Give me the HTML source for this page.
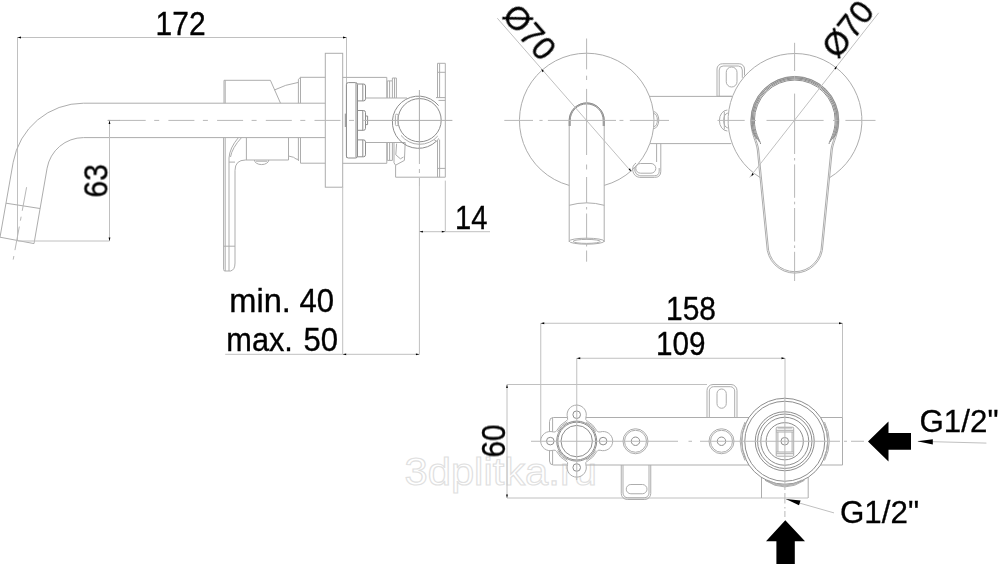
<!DOCTYPE html>
<html>
<head>
<meta charset="utf-8">
<title>Drawing</title>
<style>
html,body{margin:0;padding:0;background:#fff;}
body{width:1000px;height:564px;overflow:hidden;font-family:"Liberation Sans",sans-serif;}
svg{display:block;}
.l{stroke:#adadad;stroke-width:1;fill:none;}
.w{stroke:#adadad;stroke-width:1;fill:#fff;}
.c{stroke:#b8b8b8;stroke-width:1;fill:none;stroke-dasharray:27 8.5 5 8.5;}
.t{font-family:"Liberation Sans",sans-serif;font-size:32.5px;fill:#000;stroke:#000;stroke-width:0.35;}
.g{font-family:"Liberation Sans",sans-serif;font-size:30.5px;fill:#000;stroke:#000;stroke-width:0.3;}
.wm{font-family:"Liberation Sans",sans-serif;font-size:38.5px;fill:none;stroke:#e0e0e0;stroke-width:1.1;}
.d{stroke:#8e8e8e;}
.m{stroke:#c0c0c0;}
.k{fill:#000;stroke:none;}
</style>
</head>
<body>
<svg width="1000" height="564" viewBox="0 0 1000 564">
<rect width="1000" height="564" fill="#fff"/>

<!-- watermark -->
<g style="opacity:0.999"><text class="wm" x="404.5" y="484.5" textLength="192.5" lengthAdjust="spacingAndGlyphs">3dplitka.ru</text></g>

<!-- ================= SIDE VIEW ================= -->
<g id="side" class="l">
  <!-- dimension 172 -->
  <path class="m" d="M17.5 37.5H346.5M17.5 37V241M346.5 37V158"/>
  <!-- spout -->
  <path d="M325.3 103.2H83.5A71.4 71.4 0 0 0 13.2 162.2L0 237.2L34 243.6L47.1 168.2A37 37 0 0 1 83.5 137.6H325.3"/>
  <path d="M6 203.2L40 208.5"/>
  <!-- dim 63 -->
  <path class="m" d="M109.5 120.4V241M17.5 241H109.5"/>
  <!-- handle top block -->
  <path d="M224 103.2V80.3H270.4L280.5 103.2M225.2 103.2V80.3"/>
  <path d="M274.4 90Q285 84.5 298.4 82.4"/>
  <path d="M298.4 103.2V79.3L300.5 77.3H325.3M300.5 77.3V103.2"/>
  <!-- handle lower -->
  <path d="M223.6 137.6V269.5Q223.6 271 225 271H230.5Q235 270 235 263V170.5Q235 160 245.5 160H288.5"/>
  <path d="M225.2 137.6V271M229 158V271M223.6 246.2H235M229 162.1H235"/>
  <path d="M238.4 137.6Q229.6 148 229 158M241.5 137.6Q232 148 230.5 157"/>
  <path d="M246.4 137.6V160M288.5 137.6V160M288.5 156L293.6 157.3Q296 159.5 298.4 159.5"/>
  <path d="M298.4 137.6V161M300.5 137.6V163.2H325.3"/>
  <path d="M254.4 160A7.2 4.6 0 0 0 268.8 160M256 161.2H267.2"/>
  <!-- wall plate -->
  <rect x="325.3" y="53.3" width="17.4" height="133.9"/>
  <!-- body behind wall -->
  <path d="M342.7 77.4H386.8V98M342.7 163.3H386.8V142.5"/>
  <rect class="d" x="346.4" y="82.6" width="11.1" height="75.4" rx="2"/>
  <path class="d" d="M356 83V157.6M345.3 113.6V127"/>
  <!-- bolts -->
  <path class="d" d="M357.5 84H363.5Q365.5 84 365.5 86V98.9Q365.5 100.9 363.5 100.9H357.5M362.8 84V100.9"/>
  <path class="d" d="M357.5 139.9H363.5Q365.5 139.9 365.5 141.9V154.8Q365.5 156.8 363.5 156.8H357.5M362.8 139.9V156.8"/>
  <path class="d" d="M357.5 110.5H363.5Q365.5 110.5 365.5 112.5V128.3Q365.5 130.3 363.5 130.3H357.5M362.8 110.5V130.3M365.5 116H367.6V124.6H365.5"/>
  <path d="M365.5 98H407M365.5 142.5H405.2"/>
  <!-- rings -->
  <path d="M387.3 98V80.9H392.4V98M389.6 98V80.9M392.4 80.9V78H396.4V98M394.5 98V78"/>
  <path d="M387.3 142.5V160.4H392.4V142.5M389.6 142.5V160.4"/>
  <!-- clip -->
  <path d="M394 142.5V162.8L395.6 165.2L404.4 160.4L405.2 142.5M396.6 143.6L395.8 154.8L400.4 158.8L403.5 157"/>
  <!-- pipe circle -->
  <circle class="d" cx="419.6" cy="120.2" r="21.6"/>
  <path class="d" d="M438.6 105.6A26.1 26.1 0 1 0 436.3 141.3"/>
  <path d="M401 135.4A24 24 0 0 0 437.8 136"/>
  <path d="M434 139.6L437 141.5L438.6 138.4"/>
  <rect x="395.4" y="114.2" width="2.7" height="11.5" rx="1.2"/>
  <!-- bracket -->
  <path d="M437.5 98V63.3H445.3V177.2M439.6 63.3V98M437.5 72.3H445.3M436 97.6H445.3M438.5 100.4H445.3"/>
  <path d="M437.5 141V177.2M439.6 139.6V177.2M437.5 168.4H445.3"/>
  <path d="M395.6 165.2V177.2H445.3"/>
  <!-- dim 14 -->
  <path class="m" d="M445.3 180.6V231.7M419.4 231.7H490"/>
  <!-- dim min/max -->
  <path class="m" d="M342.7 187.2V354.3M225.2 354.3H419.4M419.4 186V354.3"/>
</g>
<!-- side view centre lines -->
<path class="c" d="M107.5 120.4H366" stroke-dashoffset="36.5" style="stroke-dasharray:26 8.5 5 9.2"/>
<path class="l" d="M108 120.4H120M366 120.4H452.4M419.4 90V150"/>
<path class="c" d="M419.4 150V186" style="stroke-dasharray:14 5 4 5"/>
<path class="c" d="M26.6 187.2L13.2 259.6" style="stroke-dasharray:24 6 4 6"/>

<!-- ================= FRONT VIEW: SPOUT ================= -->
<g id="front1" class="l">
  <path d="M604.2 185.4A67.25 67.25 0 1 0 569.2 185.4"/>
  <path d="M569.2 242V120.5A17.5 17.5 0 0 1 604.2 120.5V242"/>
  <path class="d" d="M570.2 126V120.4A16.5 16.5 0 0 1 603.2 120.4V126"/>
  <path class="d" d="M569.2 126V120.4A17.5 17.5 0 0 1 604.2 120.4V126"/>
  <path d="M569.2 205.3Q586.7 200.4 604.2 205.3"/>
  <ellipse cx="586.7" cy="241.2" rx="17.5" ry="3"/>
  <ellipse cx="586.7" cy="241.4" rx="13.6" ry="2"/>
  <!-- leader -->
  <path class="m" d="M497.3 18.2L631.2 171.6"/>
  <!-- bump -->
  <path d="M653.4 111.5A5.4 8.6 0 0 1 653.4 128.7M654 113.6A3.4 6.5 0 0 1 654 126.6"/>
  <!-- connecting lines -->
  <path d="M649.5 96.4H732M650 143.6H731.3"/>
  <!-- tab -->
  <path d="M656.6 143.5V162M636 163A8 8 0 0 0 639.6 177.4H654.6Q660.8 177.4 660.8 171.3V143.5"/>
  <path d="M637 164.6A6.4 6.4 0 0 0 639.8 175.8H654.2Q659.2 175.8 659.2 171.2V168"/>
  <rect x="635.8" y="163.5" width="20" height="9.7" rx="4.8"/>
</g>
<path class="c" d="M504.3 120.4H533M539.4 120.4H542.6M547.9 120.4H616M619.5 120.4H623.4M629.8 120.4H669" style="stroke-dasharray:none"/>
<path class="c" d="M586.6 38.5V69.4M586.6 75.7V80M586.6 88.9V155M586.6 164.5V169.5M586.6 177V203M586.6 207V209.5M586.6 213.5V240M586.6 244V246.5M586.6 250.5V261.7" style="stroke-dasharray:none"/>
<path class="k" d="M541.3 68.8l1.2 3.4l1.4-1.2zM631.2 171.6l-1.2-3.4l-1.4 1.2z"/>

<!-- ================= FRONT VIEW: HANDLE ================= -->
<g id="front2" class="l">
  <path d="M760.3 177.6A66.9 66.9 0 1 1 829.7 177.6"/>
  <!-- handle -->
  <path d="M766.70 245L757.30 150C756.50 142 750.80 134 750.80 120.4A44 44 0 0 1 838.80 120.4C838.80 134 833.10 142 832.30 150L822.90 245A28.1 28.1 0 0 1 766.70 245Z"/>
  <path d="M768.10 245L758.70 150C757.90 142 752.20 134 752.20 120.4A42.6 42.6 0 0 1 837.40 120.4C837.40 134 831.70 142 830.90 150L821.50 245A26.700000000000003 26.700000000000003 0 0 1 768.10 245Z"/>
  <path class="d" d="M757.30 138C756.70 140 751.10 133 751.10 120.4A43.7 43.7 0 0 1 838.50 120.4C838.50 133 832.90 140 832.30 138"/>
  <path class="d" d="M758.40 140C757.80 140 752.20 133 752.20 120.4A42.6 42.6 0 0 1 837.40 120.4C837.40 133 831.80 140 831.20 140"/>
  <path class="d" d="M759.50 142C758.90 140 753.30 133 753.30 120.4A41.5 41.5 0 0 1 836.30 120.4C836.30 133 830.70 140 830.10 142"/>
  <path class="d" d="M760.60 144C760.00 140 754.40 133 754.40 120.4A40.4 40.4 0 0 1 835.20 120.4C835.20 133 829.60 140 829.00 144"/>
  <!-- leader -->
  <path class="m" d="M878.7 12.8L749.7 177.4"/>
  <!-- top-left bracket -->
  <path d="M717 96.25V69A5.3 5.3 0 0 1 722.3 63.75H739.2A5.3 5.3 0 0 1 744.5 69V75.5"/>
  <path d="M719.2 96.25V70A4 4 0 0 1 723.2 66H738.3A4 4 0 0 1 742.3 70V77.8"/>
  <rect x="726.25" y="67" width="10.75" height="20" rx="5.3"/>
  <path d="M717 96.25H731.8"/>
  <!-- left bump -->
  <path d="M727.4 110A8 10.5 0 0 0 727.4 131M727.9 113A5 7.6 0 0 0 727.9 128M724.3 111.5V129.5"/>
</g>
<path class="c" d="M717.5 120.4H744.7M751.5 120.4H756M766.5 120.4H823.6M833 120.4H837.5M845.4 120.4H875.5" style="stroke-dasharray:none"/>
<path class="c" d="M794.6 42.8V71M794.6 76V79.5M794.6 93.6V154M794.6 158V160.5M794.6 164.4V197.8M794.6 201.7V204.3M794.6 208V241.5M794.6 245.4V248M794.6 251.8V281" style="stroke-dasharray:none"/>
<path class="k" d="M836.9 66l-1 3.5l-1.6-1.2zM751.3 176.5l1-3.5l1.6 1.2z"/>

<!-- ================= BOTTOM VIEW ================= -->
<g id="bottom" class="l">
  <!-- dims -->
  <path class="m" d="M540.75 323.25H842.5M540.75 323V441.25M842.5 323V417.5"/>
  <path class="m" d="M576.75 358.25H785M576.75 358V404.5M785 358V398"/>
  <path class="m" d="M507 384.5V498M507 384.5H707M507 498H808"/>
  <!-- plate -->
  <path d="M842.5 417.5H553.5A4 4 0 0 0 549.5 421.5V461A4 4 0 0 0 553.5 465H842.5Z"/>
  <path d="M552.6 417.5V465"/>
  <!-- bottom tab -->
  <path d="M621.25 465V493.5A6 6 0 0 0 627.25 499.5H644.75A6 6 0 0 0 650.75 493.5V465"/>
  <path d="M623 465V493A4.8 4.8 0 0 0 627.8 497.8H644.2A4.8 4.8 0 0 0 649 493V465"/>
  <rect x="626.25" y="484.5" width="20.75" height="9.25" rx="4.6"/>
  <!-- top bracket -->
  <path d="M707 417.5V390.5A6 6 0 0 1 713 384.5H731A6 6 0 0 1 737 390.5V417.5"/>
  <path d="M709.3 417.5V391A4.3 4.3 0 0 1 713.6 386.7H730.4A4.3 4.3 0 0 1 734.7 391V417.5"/>
  <rect x="717" y="389" width="9.25" height="19.25" rx="4.6"/>
  <!-- plate holes -->
  <circle cx="635.5" cy="441.25" r="12.5"/><circle cx="635.5" cy="441.25" r="11"/><circle class="d" cx="635.5" cy="441.25" r="4.2"/>
  <circle cx="721.5" cy="441.25" r="12.5"/><circle cx="721.5" cy="441.25" r="11"/><circle class="d" cx="721.5" cy="441.25" r="4.2"/>
  <!-- 4-lobe flange -->
  <path class="w" d="M566.09 421.14A3.0 3.0 0 0 0 567.55 417.59A9.6 9.6 0 1 1 585.85 417.59A3.0 3.0 0 0 0 587.31 421.14A22.6 22.6 0 0 1 596.66 430.49A3.0 3.0 0 0 0 600.21 431.95A9.6 9.6 0 1 1 600.21 450.25A3.0 3.0 0 0 0 596.66 451.71A22.6 22.6 0 0 1 587.31 461.06A3.0 3.0 0 0 0 585.85 464.61A9.6 9.6 0 1 1 567.55 464.61A3.0 3.0 0 0 0 566.09 461.06A22.6 22.6 0 0 1 556.74 451.71A3.0 3.0 0 0 0 553.19 450.25A9.6 9.6 0 1 1 553.19 431.95A3.0 3.0 0 0 0 556.74 430.49A22.6 22.6 0 0 1 566.09 421.14Z"/>
  <path d="M595.84 450.44A21.3 21.3 0 0 1 586.04 460.24M567.36 460.24A21.3 21.3 0 0 1 557.56 450.44M557.56 431.76A21.3 21.3 0 0 1 567.36 421.96M586.04 421.96A21.3 21.3 0 0 1 595.84 431.76"/>
  <circle class="d" cx="576.7" cy="441.1" r="20"/>
  <circle class="d" cx="576.7" cy="441.1" r="18.9"/>
  <circle class="d" cx="576.7" cy="441.1" r="15.7"/>
  <circle class="d" cx="576.7" cy="414.70000000000005" r="3.8"/>
  <circle class="d" cx="576.7" cy="467.5" r="3.8"/>
  <circle class="d" cx="550.3000000000001" cy="441.1" r="3.8"/>
  <circle class="d" cx="603.1" cy="441.1" r="3.8"/>
  <!-- outlet box -->
  <path d="M761.5 477V498M808.2 477V498"/>
  <path d="M765 480Q784.75 492 803.75 480"/>
  <!-- big valve -->
  <circle class="w d" cx="784.75" cy="441.25" r="43"/>
  <circle class="d" cx="784.75" cy="441.25" r="40"/>
  <path d="M745 422Q735.4 441.25 745 460.5M824.5 422Q834.1 441.25 824.5 460.5M746 423.5Q737.6 441.25 746 459M823.5 423.5Q831.9 441.25 823.5 459"/>
  <circle class="d" cx="784.75" cy="441.25" r="29.5"/>
  <circle class="d" cx="784.75" cy="441.25" r="27.2"/>
  <circle class="d" cx="784.75" cy="441.25" r="24"/>
  <circle class="d" cx="784.75" cy="441.25" r="18.6"/>
  <rect x="776.2" y="427.2" width="17.5" height="29" rx="1"/>
  <path d="M776.2 430.3H793.7M776.2 432H793.7M776.2 452H793.7M776.2 453.7H793.7M777.9 432V452M792.1 432V452M777.6 428H792.3"/>
  <circle class="d" cx="784.75" cy="441.25" r="3.8"/>
  <path d="M765 480.3Q784.75 493.5 804.5 480.3M767.5 480Q784.75 490.5 802 480"/>
  <!-- leaders -->
  <path class="m" d="M786 499.2L834 512.9M918 441.3L986.4 443.1"/>
</g>
<path class="c" d="M531 441.25H678M688.5 441.25H692M700 441.25H840M844 441.25H847M851 441.25H864" style="stroke-dasharray:none"/>
<path class="c" d="M576.75 404V480" style="stroke-dasharray:none"/>
<path class="c" d="M784.9 398V490M784.9 493V503.5M784.9 507V508.5M784.9 511V517" style="stroke-dasharray:none"/>
<!-- arrows -->
<path class="k" d="M868 441.5L888.5 421.5V433H911V449.8H888.5V461.5Z"/>
<path class="k" d="M785.3 520.2L805 541.2H794.8V564H776.4V541.2H766Z"/>
<path class="k" d="M917.3 441.2L932.8 439.2V444.4Z"/>
<path class="k" d="M785.9 498.9L800.6 500.6L799 505.2Z"/>
<!-- dimension arrow ticks -->
<path class="k" d="M17.5 37.5l3.5-.9v1.8zM346.5 37.5l-3.5-.9v1.8zM109.5 120.4l-.9 3.5h1.8zM109.5 241l-.9-3.5h1.8zM419.4 231.7l3.5-.9v1.8zM445.3 231.7l-3.5-.9v1.8zM342.7 354.3l3.5-.9v1.8zM419.4 354.3l-3.5-.9v1.8zM540.75 323.25l3.5-.9v1.8zM842.5 323.25l-3.5-.9v1.8zM576.75 358.25l3.5-.9v1.8zM785 358.25l-3.5-.9v1.8zM507 384.5l-.9 3.5h1.8zM507 498l-.9-3.5h1.8z"/>

<!-- ================= TEXT ================= -->
<g id="txt" style="opacity:0.999">
<text class="t" x="155.6" y="35" textLength="50" lengthAdjust="spacingAndGlyphs">172</text>
<text class="t" style="font-size:34px" transform="translate(107.4 197.6) rotate(-90)" textLength="33.5" lengthAdjust="spacingAndGlyphs">63</text>
<text class="t" x="455" y="228.6" textLength="32.5" lengthAdjust="spacingAndGlyphs">14</text>
<text class="t" y="311.9"><tspan x="229.3" textLength="61.6" lengthAdjust="spacingAndGlyphs">min.</tspan><tspan x="299.4" textLength="34.6" lengthAdjust="spacingAndGlyphs">40</tspan></text>
<text class="t" y="350.5"><tspan x="226.3" textLength="66.6" lengthAdjust="spacingAndGlyphs">max.</tspan><tspan x="303.4" textLength="34.6" lengthAdjust="spacingAndGlyphs">50</tspan></text>
<text class="t" x="666" y="320" textLength="50" lengthAdjust="spacingAndGlyphs">158</text>
<text class="t" x="656" y="355" textLength="49.5" lengthAdjust="spacingAndGlyphs">109</text>
<text class="t" transform="translate(505 457.5) rotate(-90)" textLength="33" lengthAdjust="spacingAndGlyphs">60</text>
<g transform="translate(500.7 16.5) rotate(49)"><text class="t">O70</text><path d="M2.3 -0.2L23 -23.2" stroke="#000" stroke-width="2.6" fill="none"/></g>
<g transform="translate(838 60.3) rotate(-52)"><text class="t">O70</text><path d="M2.3 -0.2L23 -23.2" stroke="#000" stroke-width="2.6" fill="none"/></g>
<text class="g" x="919.5" y="431.9" textLength="79" lengthAdjust="spacingAndGlyphs">G1/2"</text>
<text class="g" x="840" y="523.2" textLength="79" lengthAdjust="spacingAndGlyphs">G1/2"</text>
</g>
</svg>
</body>
</html>
